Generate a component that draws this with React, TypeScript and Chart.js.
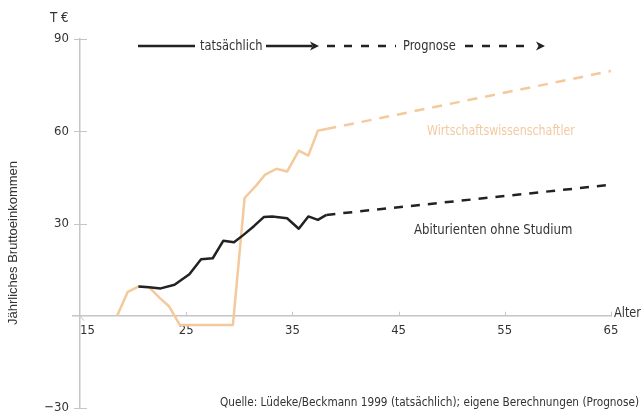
import { useEffect, useRef } from 'react';
import { Chart, registerables } from 'chart.js';

Chart.register(...registerables);

// Abiturienten ohne Studium (black)
const abiActualAges = [20.5, 21.5, 22.6, 23.9, 25.3, 26.4, 27.5, 28.5, 29.5, 30.4, 31.4, 32.3, 33.1, 34.5, 35.6, 36.5, 37.4, 38.2];
const abiActualIncome = [9.5, 9.3, 8.9, 10.1, 13.5, 18.4, 18.7, 24.4, 23.9, 26.3, 29.2, 32.1, 32.3, 31.7, 28.3, 32.3, 31.2, 32.8];
const abiForecastAges = [38.2, 65];
const abiForecastIncome = [32.8, 42.6];

// Wirtschaftswissenschaftler (tan)
const wiwiActualAges = [18.5, 19.5, 20.5, 21.5, 22.5, 23.4, 24.4, 29.4, 30.5, 31.6, 32.4, 33.5, 34.5, 35.6, 36.5, 37.4, 38.2];
const wiwiActualIncome = [0, 7.8, 9.5, 9.3, 5.8, 3, -3, -3, 38.3, 42.4, 45.8, 47.8, 46.9, 53.7, 52.1, 60.2, 60.7];
const wiwiForecastAges = [38.2, 65];
const wiwiForecastIncome = [60.7, 79.6];

const xTicks = [15, 25, 35, 45, 55, 65];
const yTicks = [-30, 0, 30, 60, 90];

const seriesLabels = ['Abiturienten ohne Studium', 'Wirtschaftswissenschaftler'];
const legendLabels = ['tatsächlich', 'Prognose'];
const sourceText = 'Quelle: Lüdeke/Beckmann 1999 (tatsächlich); eigene Berechnungen (Prognose)';

const BLACK = '#222222';
const TAN = '#f4c99b';
const TAN_TEXT = '#f2caa0';
const AXIS = '#c4c4ca';
const TEXT = '#333333';
const FONT = '"Liberation Sans Narrow", "DejaVu Sans Condensed", "Roboto Condensed", sans-serif';
const REG_FONT = '"Liberation Sans", Arial, sans-serif';

const zip = (xs: number[], ys: number[]) => xs.map((x, i) => ({ x, y: ys[i] }));

const decorPlugin = {
  id: 'decor',
  afterDraw(chart: any) {
    const ctx: CanvasRenderingContext2D = chart.ctx;
    const xs = chart.scales.x;
    const ys = chart.scales.y;
    const line = (x1: number, y1: number, x2: number, y2: number) => {
      ctx.beginPath();
      ctx.moveTo(x1, y1);
      ctx.lineTo(x2, y2);
      ctx.stroke();
    };
    const text = (s: string, x: number, y: number, size: number, sx: number, align: CanvasTextAlign, color: string) => {
      ctx.save();
      ctx.translate(x, y);
      ctx.scale(sx, 1);
      ctx.font = `${size}px ${FONT}`;
      ctx.textAlign = align;
      ctx.textBaseline = 'middle';
      ctx.fillStyle = color;
      ctx.fillText(s, 0, 0);
      ctx.restore();
    };
    ctx.save();
    // axis tick marks
    ctx.strokeStyle = AXIS;
    ctx.lineWidth = 1;
    const ax = xs.left;
    yTicks.forEach((v) => {
      if (v === 0) return;
      const py = Math.round(ys.getPixelForValue(v)) + 0.5;
      line(ax - 6, py, ax + 7, py);
    });
    const zeroY = ys.getPixelForValue(0);
    xTicks.forEach((v) => {
      if (v === xTicks[0]) return;
      const px = Math.round(xs.getPixelForValue(v)) + 0.5;
      line(px, zeroY - 4, px, zeroY);
    });
    // x axis stub left of the y axis and small diagonal mark at origin
    ctx.lineWidth = 1.5;
    line(ax - 8, zeroY, ax, zeroY);
    ctx.lineWidth = 1;
    line(ax, zeroY, ax + 4, zeroY + 5);

    // texts
    text('T €', 50, 18, 14, 0.95, 'left', TEXT);
    text('Alter', 614, 313, 14, 0.9, 'left', TEXT);

    ctx.save();
    ctx.translate(13, 243);
    ctx.rotate(-Math.PI / 2);
    ctx.textAlign = 'center';
    ctx.textBaseline = 'middle';
    ctx.fillStyle = TEXT;
    ctx.font = `13px ${REG_FONT}`;
    ctx.fillText('Jährliches Bruttoeinkommen', 0, 0);
    ctx.restore();

    // legend
    const ly = 46;
    ctx.strokeStyle = BLACK;
    ctx.fillStyle = BLACK;
    ctx.lineWidth = 2.5;
    line(138, ly, 195, ly);
    line(266, ly, 312, ly);
    const arrow = (tip: number) => {
      ctx.beginPath();
      ctx.moveTo(tip, ly);
      ctx.lineTo(tip - 9, ly - 4.5);
      ctx.lineTo(tip - 6.5, ly);
      ctx.lineTo(tip - 9, ly + 4.5);
      ctx.closePath();
      ctx.fill();
    };
    arrow(319);
    ctx.setLineDash([8, 9]);
    line(327, ly, 396, ly);
    line(465, ly, 530, ly);
    ctx.setLineDash([]);
    arrow(545);

    text(legendLabels[0], 200, ly, 14, 0.91, 'left', TEXT);
    text(legendLabels[1], 403, ly, 14, 0.91, 'left', TEXT);

    text(seriesLabels[1], 427, 131, 14, 0.88, 'left', TAN_TEXT);
    text(seriesLabels[0], 414, 230, 14, 0.93, 'left', TEXT);

    text(sourceText, 639, 403, 13, 0.9, 'right', TEXT);
    ctx.restore();
  },
};

export default function App() {
  const ref = useRef<HTMLCanvasElement | null>(null);

  useEffect(() => {
    if (!ref.current) return;
    Chart.defaults.font.family = FONT;
    const chart = new Chart(ref.current, {
      type: 'scatter',
      data: {
        datasets: [
          {
            label: seriesLabels[0],
            data: zip(abiActualAges, abiActualIncome),
            showLine: true,
            borderColor: BLACK,
            borderWidth: 2.5,
            pointRadius: 0,
            borderJoinStyle: 'round',
          },
          {
            label: seriesLabels[0] + ' Prognose',
            data: zip(abiForecastAges, abiForecastIncome),
            showLine: true,
            borderColor: BLACK,
            borderWidth: 2.5,
            borderDash: [9, 8],
            pointRadius: 0,
          },
          {
            label: seriesLabels[1],
            data: zip(wiwiActualAges, wiwiActualIncome),
            showLine: true,
            borderColor: TAN,
            borderWidth: 2.5,
            pointRadius: 0,
            borderJoinStyle: 'round',
          },
          {
            label: seriesLabels[1] + ' Prognose',
            data: zip(wiwiForecastAges, wiwiForecastIncome),
            showLine: true,
            borderColor: TAN,
            borderWidth: 2.5,
            borderDash: [10, 8],
            pointRadius: 0,
          },
        ],
      },
      options: {
        animation: false,
        responsive: false,
        layout: { padding: { left: 0, top: 39, right: 31, bottom: 3 } },
        plugins: { legend: { display: false }, tooltip: { enabled: false } },
        scales: {
          x: {
            type: 'linear',
            position: { y: 0 } as any,
            min: 15,
            max: 65,
            afterBuildTicks: (scale: any) => {
              scale.ticks = xTicks.map((v) => ({ value: v }));
            },
            afterFit: (scale: any) => {
              scale.height = 0;
              scale.paddingLeft = 0;
              scale.paddingRight = 0;
            },
            ticks: {
              autoSkip: false,
              maxRotation: 0,
              padding: 7,
              color: TEXT,
              font: { size: 13, family: FONT },
              callback: (v: any) => (v === xTicks[0] ? '    ' + v : String(v)),
            },
            grid: { display: true, drawOnChartArea: false, drawTicks: false },
            border: { display: true, color: AXIS, width: 1.5 },
          },
          y: {
            type: 'linear',
            position: 'left',
            min: -30,
            max: 90,
            afterBuildTicks: (scale: any) => {
              scale.ticks = yTicks.map((v) => ({ value: v }));
            },
            afterFit: (scale: any) => {
              scale.width = 80;
              scale.paddingTop = 0;
              scale.paddingBottom = 0;
            },
            ticks: {
              padding: 11,
              color: TEXT,
              font: { size: 13, family: FONT },
              callback: (v: any) => (v === 0 ? '' : v < 0 ? '−' + Math.abs(v) : String(v)),
            },
            grid: { display: true, drawOnChartArea: false, drawTicks: false },
            border: { display: true, color: AXIS, width: 1.5 },
          },
        },
      },
      plugins: [decorPlugin],
    } as any);
    return () => chart.destroy();
  }, []);

  return (
    <div style={{ position: 'fixed', left: 0, top: 0, width: 642, height: 411, background: '#fff' }}>
      <canvas ref={ref} width={642} height={411} style={{ display: 'block' }} />
    </div>
  );
}
